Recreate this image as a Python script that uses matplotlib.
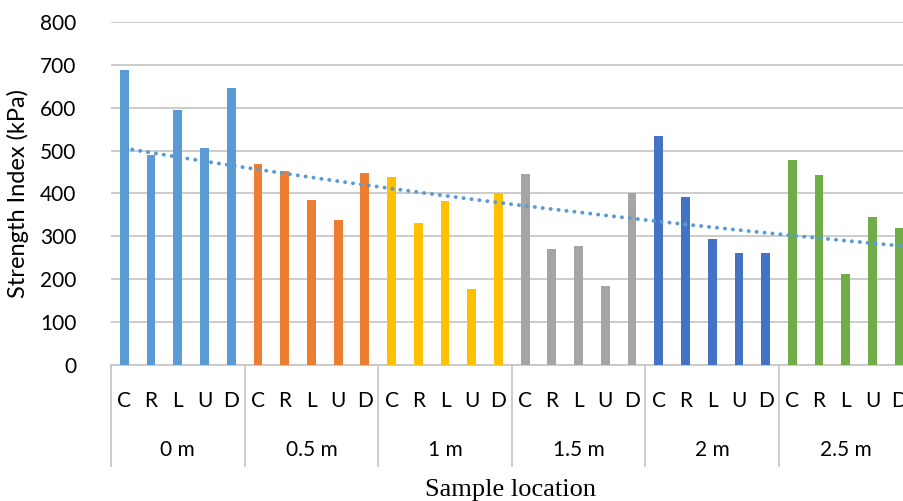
import numpy as np
import matplotlib.pyplot as plt

# data
groups = ['0 m', '0.5 m', '1 m', '1.5 m', '2 m', '2.5 m']
positions = ['C', 'R', 'L', 'U', 'D']
values_0m = [687, 490, 595, 507, 647]
values_05m = [469, 453, 385, 338, 447]
values_1m = [439, 331, 383, 177, 401]
values_15m = [446, 271, 278, 184, 401]
values_2m = [535, 392, 294, 261, 261]
values_25m = [479, 444, 212, 345, 320]
colors = ['#5B9BD5', '#ED7D31', '#FFC000', '#A5A5A5', '#4472C4', '#70AD47']

all_values = [values_0m, values_05m, values_1m, values_15m, values_2m, values_25m]

plt.rcParams['font.family'] = ['Lato', 'DejaVu Sans']

fig = plt.figure(figsize=(9.04, 5.01), dpi=100)
ax = fig.add_axes([0.1228, 0.2715, 0.8867, 0.6846])

n = len(positions)
x_all = []
y_all = []
for g, (vals, col) in enumerate(zip(all_values, colors)):
    x = np.arange(n) + g * n + 1
    ax.bar(x, vals, width=0.33, color=col, zorder=3)
    x_all.extend(x)
    y_all.extend(vals)

# exponential trendline like Excel's (fit on log of the values)
x_all = np.array(x_all)
b, a = np.polyfit(x_all, np.log(y_all), 1)
x_trend = np.linspace(1, len(x_all) + 0.5, 100)
ax.plot(x_trend, np.exp(a + b * x_trend), color='#5B9BD5', lw=2.8,
        linestyle=(0, (0.05, 2.0)), dash_capstyle='round', zorder=4)

ax.set_xlim(0.5, len(x_all) + 0.5)
ax.set_ylim(0, 800)
ax.set_yticks(range(0, 801, 100))
ax.yaxis.grid(True, color='#C8C8C8', lw=1.3, zorder=0)
ax.tick_params(axis='y', length=0, pad=25, labelsize=15)
for s in ['top', 'right', 'left']:
    ax.spines[s].set_visible(False)
ax.spines['bottom'].set_color('#C8C8C8')
ax.spines['bottom'].set_linewidth(1.3)

ax.set_xticks(x_all)
ax.set_xticklabels(positions * len(groups), fontsize=15)
ax.tick_params(axis='x', length=0, pad=19)

# group labels and separators of the two level axis
trans = ax.get_xaxis_transform()
for g, name in enumerate(groups):
    ax.text(g * n + 3, -0.247, name, transform=trans, ha='center', va='center', fontsize=15)
for g in range(len(groups) + 1):
    sep = g * n + 0.5
    ax.plot([sep, sep], [0, -0.295], transform=trans, color='#C8C8C8', lw=1.3, clip_on=False)

ax.set_ylabel('Strength Index (kPa)', fontsize=17, labelpad=8)
fig.text(0.565, 0.022, 'Sample location', family='Liberation Serif', fontsize=19,
         ha='center', va='center')

fig.savefig('out.png', dpi=100)
